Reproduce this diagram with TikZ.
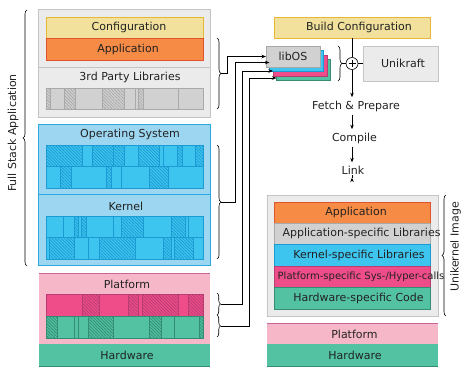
\documentclass[tikz,border=0pt]{standalone}
\usepackage{fontspec}
\setmainfont{DejaVu Sans}
\usetikzlibrary{patterns.meta,decorations.pathreplacing,arrows.meta,calc}
\definecolor{cfgY}{HTML}{F1E19C}
\definecolor{cfgYd}{HTML}{E6B838}
\definecolor{appO}{HTML}{F58B45}
\definecolor{appOd}{HTML}{E0532B}
\definecolor{bgG}{HTML}{EBEBEB}
\definecolor{bgGd}{HTML}{C4C4C4}
\definecolor{libG}{HTML}{D1D1D1}
\definecolor{libGd}{HTML}{A9A9A9}
\definecolor{osB}{HTML}{9DD6F1}
\definecolor{osBd}{HTML}{2BA9E0}
\definecolor{cyanB}{HTML}{3DC5EF}
\definecolor{cyanBd}{HTML}{1C9AD3}
\definecolor{pfP}{HTML}{F6B8C8}
\definecolor{pfPd}{HTML}{C8669A}
\definecolor{pinkB}{HTML}{EE4D8A}
\definecolor{pinkBd}{HTML}{B83D72}
\definecolor{grnB}{HTML}{52C2A3}
\definecolor{grnBd}{HTML}{348C72}
\definecolor{txt}{HTML}{222222}
\newcommand{\segrow}[6]{%
  \foreach \a/\b/\h in {#6}{%
    \fill[#3] (\a,#1) rectangle (\b,#2);
    \ifnum\h=1 \fill[pattern={Lines[angle=-45,distance=2.2pt,line width=0.75pt]}, pattern color=#4] (\a,#1) rectangle (\b,#2);\fi
    \draw[#5, line width=0.5pt] (\a,#1) rectangle (\b,#2);
  }}
\begin{document}
\begin{tikzpicture}[x=1pt,y=-1pt,
  font=\fontsize{11}{13}\selectfont, text=txt,
  lay/.style={inner sep=0pt, outer sep=0pt, line width=0.7pt},
  lbl/.style={inner sep=0pt},
  brc/.style={decorate, decoration={brace, amplitude=4pt}, line width=0.6pt, draw=black},
  conn/.style={draw=black, line width=0.6pt, -{Stealth[length=4.5pt,width=3.5pt]}},
  plain/.style={draw=black, line width=0.6pt},
  stepnode/.style={inner sep=3.3pt}]
\useasboundingbox (0,0) rectangle (462,367);
\fill[white] (0,0) rectangle (462,367);

% ---------------- left column ----------------
\node[lay, draw=bgGd, fill=bgG, minimum width=172pt, minimum height=108pt] (appgrp) at (124,63) {};
\node[lay, draw=cfgYd, fill=cfgY, minimum width=157pt, minimum height=21pt] (cfg) at (124.5,27.5) {};
\node[lay, draw=appOd, fill=appO, minimum width=157pt, minimum height=22pt] (app) at (124.5,49) {};
\node[lbl] (cfgt) at (129,27.5) {Configuration};
\node[lbl] (appt) at (128,49) {Application};
\draw[bgGd, line width=0.7pt] (38,67) -- (210,67);
\node[lbl] (libt) at (130,77) {3rd Party Libraries};
\segrow{88}{109}{libG}{libGd}{libGd}{46/50/1,50/64/0,64/75/1,75/102/0,102/124/1,124/135/0,135/138/0,138/143/1,143/178/0,178/203/0}

\node[lay, draw=osBd, fill=osB, minimum width=172pt, minimum height=141pt] (osgrp) at (124,194.5) {};
\draw[osBd, line width=0.7pt] (38,194) -- (210,194);
\node[lbl] (ost) at (130,134) {Operating System};
\node[lbl] (kert) at (126,206) {Kernel};
\segrow{145}{166}{cyanB}{cyanBd}{cyanBd}{46/82/1,82/92/0,92/113/1,113/124/1,124/138/0,138/159/1,159/163/0,163/177/0,177/182/1,182/195/0,195/203/1}
\segrow{166}{188}{cyanB}{cyanBd}{cyanBd}{46/60/0,60/71/1,71/106/0,106/111/1,111/121/0,121/149/0,149/168/1,168/203/0}
\segrow{216}{237}{cyanB}{cyanBd}{cyanBd}{46/63/0,63/74/0,74/78/1,78/81/0,81/86/1,86/113/0,113/121/0,121/143/1,143/171/0,171/185/1,185/188/0,188/203/0}
\segrow{237}{259}{cyanB}{cyanBd}{cyanBd}{46/49/0,49/74/1,74/88/0,88/99/0,99/135/1,135/163/0,163/171/1,171/174/0,174/193/1,193/203/0}

\node[lay, fill=pfP, minimum width=171pt, minimum height=71pt] (pfgrp) at (124.5,308.5) {};
\draw[pfPd, line width=0.7pt] (pfgrp.north west) -- (pfgrp.north east);
\node[lbl] (pft) at (127,284) {Platform};
\segrow{294}{316}{pinkB}{pinkBd}{pinkBd}{46/82/0,82/99/1,99/128/0,128/138/1,138/142/0,142/178/1,178/188/0,188/203/1}
\segrow{316}{338}{grnB}{grnBd}{grnBd}{46/57/1,57/74/0,74/78/0,78/88/0,88/113/1,113/149/0,149/161/1,161/174/0,174/199/0,199/203/1}
\node[lay, fill=grnB, minimum width=171pt, minimum height=22pt] (hwl) at (124.5,355) {};
\draw[grnBd, line width=0.7pt] (hwl.south west) -- (hwl.south east);
\node[lbl] (hwlt) at (127,355) {Hardware};

% full stack brace
\draw[brc] (27,266) -- (27,10);
\node[lbl, rotate=90] (fsa) at (13,133) {Full Stack Application};

% right braces of left column
\draw[brc] (217,38) -- (217,109);
\coordinate (tA) at (221,73.5);
\draw[brc] (217,145) -- (217,259);
\coordinate (tOS) at (221,202);
\draw[brc, decoration={brace, amplitude=3.5pt}] (217,293) -- (217,315);
\coordinate (tP1) at (220.5,304);
\draw[brc, decoration={brace, amplitude=3.5pt}] (217,315) -- (217,337);
\coordinate (tP2) at (220.5,326);

% ---------------- right column ----------------
\node[lay, draw=cfgYd, fill=cfgY, minimum width=156pt, minimum height=21pt] (bcfg) at (352,27.5) {};
\node[lbl] (bcfgt) at (359,27.5) {Build Configuration};

\node[lay, draw=grnBd, fill=grnB, minimum width=54pt, minimum height=21pt] (libgr) at (303.5,70) {};
\node[lay, draw=pinkBd, fill=pinkB, minimum width=54pt, minimum height=21pt] (libpk) at (300,65.5) {};
\node[lay, draw=cyanBd, fill=cyanB, minimum width=54pt, minimum height=21pt] (libcy) at (296.5,61) {};
\node[lay, draw=libGd, fill=libG, minimum width=54pt, minimum height=21pt] (libos) at (293,56.5) {libOS};

\node[lay, draw=bgGd, fill=bgG, minimum width=75pt, minimum height=35pt] (ukr) at (400.5,63.5) {};
\node[lbl] (ukrt) at (403,63.5) {Unikraft};

\draw[brc] (338,46) -- (338,81);
\coordinate (tL) at (342,63.5);
\node[circle, draw=black, line width=0.6pt, fill=white, minimum size=12pt, inner sep=0pt] (plus) at (352,63.5) {};
\draw[black, line width=0.6pt] ([xshift=-3.5pt]plus.center) -- ([xshift=3.5pt]plus.center);
\draw[black, line width=0.6pt] ([yshift=-3.5pt]plus.center) -- ([yshift=3.5pt]plus.center);

\node[stepnode] (fetch) at (356,106) {Fetch \& Prepare};
\node[stepnode] (comp) at (354.5,138) {Compile};
\node[stepnode] (link) at (353,170) {Link};

\node[lay, draw=bgGd, fill=bgG, minimum width=171pt, minimum height=121pt] (uimg) at (352.5,255.5) {};
\node[lay, draw=appOd, fill=appO, minimum width=156pt, minimum height=21pt] (uapp) at (352,212.5) {};
\node[lay, draw=libGd, fill=libG, minimum width=156pt, minimum height=21pt] (uasl) at (352,233.5) {};
\node[lay, draw=cyanBd, fill=cyanB, minimum width=156pt, minimum height=22pt] (uksl) at (352,255) {};
\node[lay, draw=pinkBd, fill=pinkB, minimum width=156pt, minimum height=21pt] (upsc) at (352,276.5) {};
\node[lay, draw=grnBd, fill=grnB, minimum width=156pt, minimum height=22pt] (uhsc) at (352,298) {};
\node[lbl] at (356,212.5) {Application};
\node[lbl] at (361.5,233.5) {Application-specific Libraries};
\node[lbl] at (359,255) {Kernel-specific Libraries};
\node[lbl, font=\fontsize{10}{12}\selectfont] at (361,276.5) {Platform-specific Sys-/Hyper-calls};
\node[lbl] at (358.5,298) {Hardware-specific Code};

\draw[brc] (446,316) -- (446,195);
\node[lbl, rotate=90] (uit) at (455.5,247) {Unikernel Image};

\node[lay, fill=pfP, minimum width=171pt, minimum height=21pt] (pfr) at (352.5,333.5) {};
\draw[pfPd, line width=0.7pt] (pfr.north west) -- (pfr.north east);
\node[lbl] at (354.5,334) {Platform};
\node[lay, fill=grnB, minimum width=171pt, minimum height=22pt] (hwr) at (352.5,355) {};
\draw[grnBd, line width=0.7pt] (hwr.south west) -- (hwr.south east);
\node[lbl] at (355,355) {Hardware};

% ---------------- connectors ----------------
\draw[plain] (bcfg.south) -- (plus.north);
\draw[plain] (plus.east) -- (ukr.west);
\draw[plain] (tL) -- (plus.west);
\draw[conn] (plus.south) -- (plus.south |- fetch.north);
\draw[conn] (fetch.south -| plus.south) -- (comp.north -| plus.south);
\draw[conn] (comp.south -| plus.south) -- (link.north -| plus.south);
\draw[conn] (link.south -| plus.south) -- (link.south -| plus.south |- uimg.north);

\draw[conn] (tA) -- ++(6,0) |- (libos.west);
\draw[conn] (tOS) -- ++(14,0) |- ([yshift=-1.5pt]libcy.west);
\draw[conn] (tP1) -- ++(21.5,0) |- ([yshift=-5.5pt]libpk.west);
\draw[conn] (tP2) -- ++(28.5,0) |- ([yshift=-8pt]libgr.west);
\end{tikzpicture}
\end{document}
